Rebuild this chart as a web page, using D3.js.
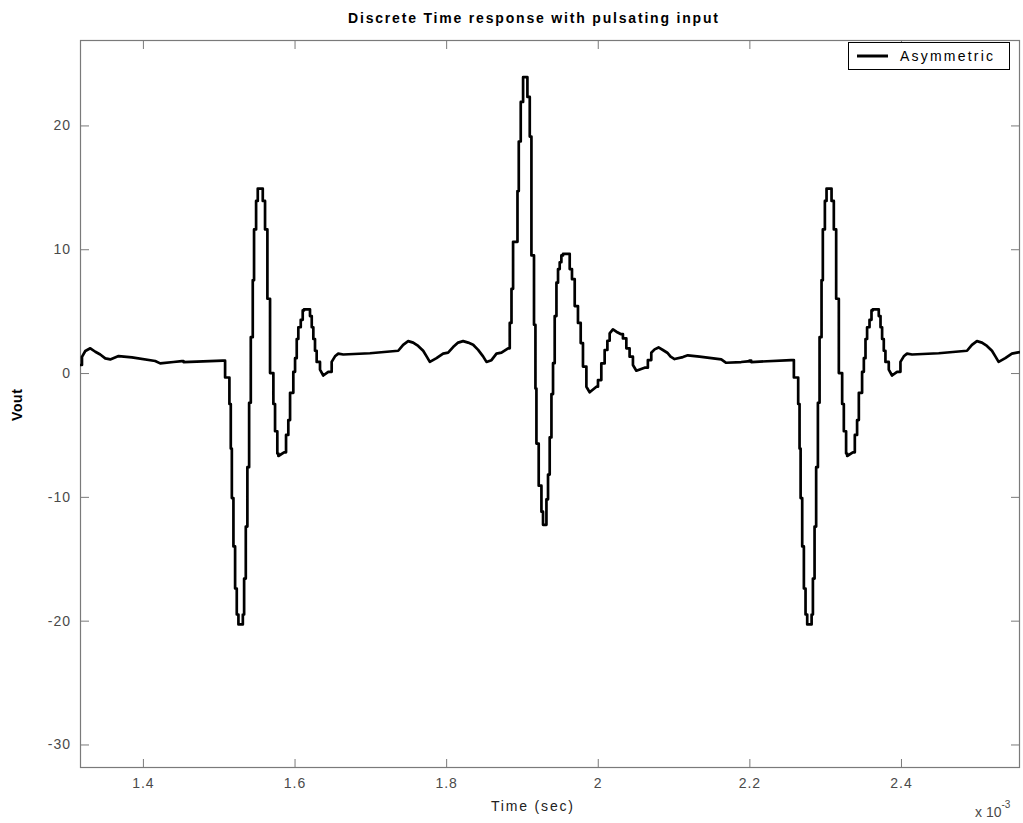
<!DOCTYPE html>
<html>
<head>
<meta charset="utf-8">
<script src="https://cdn.jsdelivr.net/npm/d3@7"></script>
<style>
  html, body { margin: 0; padding: 0; background: #ffffff; }
  svg { display: block; }
  text { font-family: "Liberation Sans", Arial, Helvetica, sans-serif; }
</style>
</head>
<body>
<svg id="chart" width="1023" height="823"></svg>
<script>
// ---- data (time in ms, shown with "x 10^-3" multiplier) ----
const time = [
  1.3165,1.3196,1.3240,1.3306,1.3372,1.3437,1.3503,1.3569,1.3679,1.3855,1.4162,1.4228,1.4403,1.4514,1.4535,1.5054,
  1.5084,1.5141,1.5159,1.5173,1.5194,1.5216,1.5238,1.5260,1.5318,1.5335,1.5357,1.5378,1.5401,1.5423,1.5449,1.5466,
  1.5493,1.5515,1.5581,1.5611,1.5642,1.5677,1.5721,1.5743,1.5773,1.5787,1.5862,1.5888,1.5918,1.5941,1.5984,1.6007,
  1.6029,1.6050,1.6082,1.6108,1.6125,1.6204,1.6227,1.6248,1.6270,1.6292,1.6336,1.6379,1.6445,1.6490,1.6534,1.6577,
  1.6643,1.6995,
  1.7368,1.7433,1.7499,1.7565,1.7631,1.7697,1.7742,1.7785,1.7873,1.7960,1.8026,1.8092,1.8158,1.8224,1.8290,1.8356,
  1.8422,1.8487,1.8532,1.8598,1.8664,1.8730,1.8817,
  1.8839,1.8862,1.8883,1.8941,1.8958,1.8984,1.9015,1.9072,1.9103,1.9125,1.9159,1.9178,1.9191,1.9221,1.9257,1.9278,
  1.9323,1.9344,1.9366,1.9389,1.9410,1.9432,1.9455,1.9476,1.9498,1.9520,1.9542,1.9630,1.9660,1.9696,1.9739,1.9775,
  1.9805,1.9850,1.9893,1.9982,2.0003,2.0047,2.0091,2.0127,2.0157,2.0200,2.0245,2.0302,2.0332,2.0377,2.0420,2.0464,
  2.0509,2.0618,2.0661,2.0706,2.0750,2.0802,2.0859,2.0917,2.0961,2.1013,2.1123,2.1188,2.1343,2.1629,2.1694,2.1892,
  2.1979,2.2001,2.2024,2.2551,
  2.2587,2.2644,2.2662,2.2676,2.2697,2.2719,2.2741,2.2763,2.2821,2.2838,2.2860,2.2881,2.2904,2.2926,2.2952,2.2969,
  2.2996,2.3018,2.3084,2.3114,2.3145,2.3180,2.3224,2.3246,2.3276,2.3290,2.3365,2.3391,2.3421,2.3444,2.3487,2.3510,
  2.3532,2.3553,2.3585,2.3611,2.3628,2.3707,2.3730,2.3751,2.3773,2.3795,2.3839,2.3882,2.3948,2.3993,2.4037,2.4080,
  2.4146,2.4498,
  2.4871,2.4936,2.5002,2.5068,2.5134,2.5200,2.5245,2.5288,2.5376,2.5463,2.5529,2.5570
];
const vout = [
  0.65,1.3,1.78,2.0,1.72,1.5,1.19,1.1,1.37,1.27,0.97,0.78,0.89,0.97,0.89,1.0,
  -0.36,-2.5,-6.1,-10.1,-14.0,-17.4,-19.5,-20.3,-19.5,-16.6,-12.4,-7.6,-2.4,2.9,7.5,11.6,
  13.9,14.9,13.9,11.6,6.0,0.0,-2.5,-4.7,-6.5,-6.7,-6.4,-5.0,-3.8,-1.6,0.1,1.2,
  2.75,3.7,4.3,5.06,5.15,4.6,3.7,2.75,1.8,0.9,0.27,-0.2,0.1,0.9,1.35,1.57,
  1.5,1.6,
  1.8,2.28,2.58,2.46,2.19,1.8,1.35,0.9,1.2,1.57,1.65,2.1,2.46,2.58,2.46,2.28,
  1.87,1.35,0.9,1.04,1.57,1.65,2.0,
  4.05,6.8,10.6,14.7,18.7,21.9,23.9,22.3,19.1,9.5,3.9,-1.25,-5.7,-9.1,-11.2,-12.26,
  -10.2,-8.2,-5.2,-1.7,0.8,4.6,7.3,8.4,8.95,9.5,9.63,8.4,7.58,5.41,4.05,2.42,
  0.52,-1.11,-1.55,-1.1,-0.57,0.78,1.86,2.61,3.2,3.53,3.34,3.15,2.8,2.0,1.32,0.65,
  0.19,0.43,1.05,1.64,1.91,2.07,1.86,1.64,1.32,1.13,1.29,1.43,1.32,1.1,0.83,0.89,
  0.94,1.0,0.89,1.05,
  -0.36,-2.5,-6.1,-10.1,-14.0,-17.4,-19.5,-20.3,-19.5,-16.6,-12.4,-7.6,-2.4,2.9,7.5,11.6,
  13.9,14.9,13.9,11.6,6.0,0.0,-2.5,-4.7,-6.5,-6.7,-6.4,-5.0,-3.8,-1.6,0.1,1.2,
  2.75,3.7,4.3,5.06,5.15,4.6,3.7,2.75,1.8,0.9,0.27,-0.2,0.1,0.9,1.35,1.57,
  1.5,1.6,
  1.8,2.28,2.58,2.46,2.19,1.8,1.35,0.9,1.2,1.57,1.65,1.7
];
const xDomain = [1.317, 2.557];
const yDomain = [-31.9, 26.9];
const xTicks = [1.4, 1.6, 1.8, 2.0, 2.2, 2.4];
const xTickLabels = ["1.4", "1.6", "1.8", "2", "2.2", "2.4"];
const yTicks = [-30, -20, -10, 0, 10, 20];
const yTickLabels = ["-30", "-20", "-10", "0", "10", "20"];
const seriesName = "Asymmetric";

// ---- layout ----
const svg = d3.select("#chart");
const L = 80, R = 1020, T = 40, B = 768;
const x = d3.scaleLinear().domain(xDomain).range([L, R]);
const y = d3.scaleLinear().domain(yDomain).range([B, T]);
const axisColor = "#7a7a7a";
const labelColor = "#4a4a4a";
const tick = 9;

svg.append("rect").attr("x", 0).attr("y", 0).attr("width", 1023).attr("height", 823).attr("fill", "#fff");

svg.append("defs").append("clipPath").attr("id", "clip")
  .append("rect").attr("x", L).attr("y", T).attr("width", R - L).attr("height", B - T);

function styleAxis(g, showLabels) {
  g.select(".domain").remove();
  g.selectAll(".tick line").attr("stroke", axisColor).attr("stroke-width", 1);
  g.selectAll(".tick text")
    .attr("fill", labelColor)
    .style("font-size", "14px")
    .style("letter-spacing", "1px")
    .style("display", showLabels ? null : "none");
}

svg.append("g").attr("transform", `translate(0,${B})`)
  .call(d3.axisBottom(x).tickValues(xTicks).tickFormat((d, i) => xTickLabels[i])
    .tickSizeInner(-tick).tickSizeOuter(0).tickPadding(10))
  .call(g => styleAxis(g, true));
svg.append("g").attr("transform", `translate(0,${T})`)
  .call(d3.axisTop(x).tickValues(xTicks).tickSizeInner(-tick).tickSizeOuter(0))
  .call(g => styleAxis(g, false));
svg.append("g").attr("transform", `translate(${L},0)`)
  .call(d3.axisLeft(y).tickValues(yTicks).tickFormat((d, i) => yTickLabels[i])
    .tickSizeInner(-tick).tickSizeOuter(0).tickPadding(9))
  .call(g => styleAxis(g, true));
svg.append("g").attr("transform", `translate(${R},0)`)
  .call(d3.axisRight(y).tickValues(yTicks).tickSizeInner(-tick).tickSizeOuter(0))
  .call(g => styleAxis(g, false));

svg.append("rect").attr("x", L + 0.5).attr("y", T + 0.5)
  .attr("width", R - L - 1).attr("height", B - T - 1)
  .attr("fill", "none").attr("stroke", axisColor).attr("stroke-width", 1.2);

// series: held (stair) steps inside the fast pulses, straight segments on slow drift
const pts = [];
time.forEach((t, i) => {
  if (i > 0) {
    const gap = t - time[i - 1];
    const dv = Math.abs(vout[i] - vout[i - 1]);
    if (gap <= 0.0035 || dv >= 0.55) pts.push([t, vout[i - 1]]);
  }
  pts.push([t, vout[i]]);
});
const line = d3.line().x(d => x(d[0])).y(d => y(d[1])).curve(d3.curveLinear);
svg.append("path").datum(pts)
  .attr("clip-path", "url(#clip)")
  .attr("d", line)
  .attr("fill", "none").attr("stroke", "#000").attr("stroke-width", 2.7)
  .attr("stroke-linejoin", "round");

// title
svg.append("text").attr("x", 348).attr("y", 23)
  .attr("textLength", 370).attr("lengthAdjust", "spacing")
  .style("font-size", "14px").style("font-weight", "bold").attr("fill", "#000")
  .text("Discrete Time response with pulsating input");

// y label
svg.append("text").attr("transform", "translate(22,405) rotate(-90)")
  .attr("text-anchor", "middle")
  .attr("textLength", 32).attr("lengthAdjust", "spacing")
  .style("font-size", "14px").style("font-weight", "bold").attr("fill", "#000")
  .text("Vout");

// x label
svg.append("text").attr("x", 491).attr("y", 811)
  .attr("textLength", 82).attr("lengthAdjust", "spacing")
  .style("font-size", "14px").attr("fill", "#222")
  .text("Time (sec)");

// exponent
const ex = svg.append("text").attr("x", 975).attr("y", 817)
  .style("font-size", "14px").attr("fill", labelColor);
ex.append("tspan").text("x 10");
ex.append("tspan").attr("dy", -9).style("font-size", "10px").text("-3");

// legend
const lg = svg.append("g");
lg.append("rect").attr("x", 848.5).attr("y", 42.5).attr("width", 161).attr("height", 27)
  .attr("fill", "#fff").attr("stroke", "#000").attr("stroke-width", 1);
lg.append("line").attr("x1", 857).attr("x2", 888).attr("y1", 56).attr("y2", 56)
  .attr("stroke", "#000").attr("stroke-width", 3);
lg.append("text").attr("x", 900).attr("y", 61)
  .attr("textLength", 93).attr("lengthAdjust", "spacing")
  .style("font-size", "14px").attr("fill", "#000")
  .text(seriesName);
</script>
</body>
</html>
